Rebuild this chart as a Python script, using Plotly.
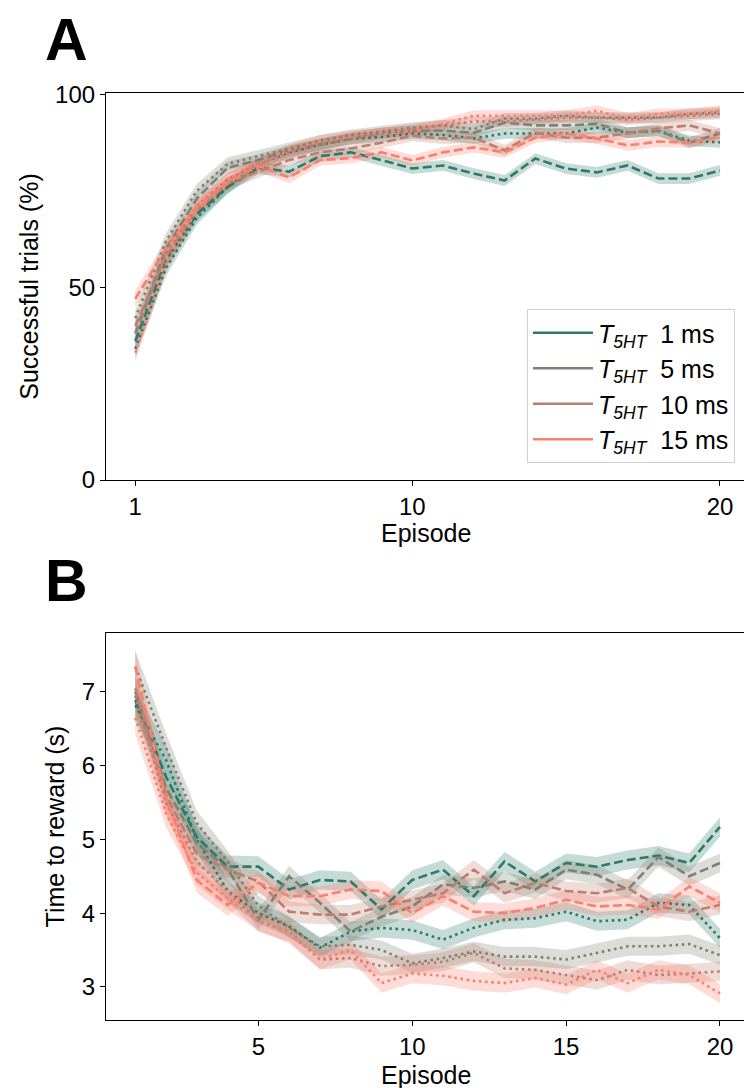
import plotly.graph_objects as go

# ---------------- data ----------------
episodes = list(range(1, 21))

series_names = ["1 ms", "5 ms", "10 ms", "15 ms"]
colors = ["#2c7a68", "#7d8272", "#bf7d6e", "#fa7f6c"]
fill_colors = ["rgba(44,122,104,0.27)", "rgba(125,130,114,0.27)",
               "rgba(191,125,110,0.27)", "rgba(250,127,108,0.27)"]

# Panel A: successful trials (%)
A_1ms_dash = [36, 57, 69, 76, 81, 80, 84, 85, 83, 80.8, 81.6, 79.5, 77.7, 83.4, 80.8, 79.8, 81.6, 78.2, 78.2, 80.3]
A_1ms_dot = [34, 55, 68, 76, 82, 85, 87, 88.5, 89, 89.9, 89.5, 88.6, 89.9, 89.9, 89.9, 91.4, 90.1, 90.6, 88, 87.6]
A_5ms_dash = [38, 60, 73, 81, 83, 85.5, 87, 88.5, 90, 90.6, 90.6, 90.1, 92.7, 92, 92, 92.4, 90.1, 90.6, 87.5, 89.9]
A_5ms_dot = [42, 62, 75, 82, 84, 86, 88, 89.5, 90.5, 91.4, 92, 91, 93.8, 93.8, 94.5, 94, 94, 94, 95, 95.3]
A_10ms_dash = [40, 58, 70, 77, 80, 83, 85, 86, 87.5, 89.3, 88.6, 88.8, 85.5, 90.1, 88.8, 88.8, 89.9, 91.2, 92, 89.9]
A_10ms_dot = [38, 59, 71, 78, 82, 85, 87, 89, 90, 91, 92, 93, 93, 93.5, 94, 94, 93.5, 94, 94.5, 95]
A_15ms_dash = [47, 60, 71, 77, 81.5, 78.5, 83, 83.5, 85, 82.9, 85, 86.3, 85, 88.8, 89.9, 88.6, 86.8, 87.8, 87.5, 89]
A_15ms_dot = [33, 56, 70, 78, 82, 85.5, 88, 89, 90, 90.6, 92.4, 94.5, 94.5, 94.5, 94.5, 95.8, 93.8, 95, 95, 95.8]
A_sem = [2.2, 2.0, 1.8, 1.7, 1.6, 1.5, 1.5, 1.4, 1.4, 1.4, 1.4, 1.4, 1.4, 1.4, 1.4, 1.4, 1.4, 1.4, 1.4, 1.4]

# Panel B: time to reward (s)
B_1ms_dash = [6.89, 5.85, 5.03, 4.63, 4.63, 4.32, 4.45, 4.43, 4.05, 4.45, 4.59, 4.23, 4.70, 4.43, 4.68, 4.63, 4.72, 4.78, 4.68, 5.17]
B_1ms_dot = [6.82, 6.08, 5.00, 4.30, 4.00, 3.82, 3.53, 3.75, 3.80, 3.77, 3.64, 3.80, 3.91, 3.93, 4.02, 3.89, 3.91, 4.14, 4.11, 3.66]
B_5ms_dash = [7.00, 5.70, 4.95, 4.60, 3.91, 4.50, 4.14, 3.75, 3.95, 4.09, 4.39, 4.34, 4.43, 4.32, 4.59, 4.52, 4.32, 4.76, 4.50, 4.68]
B_5ms_dot = [7.34, 6.25, 5.22, 4.70, 4.10, 3.80, 3.55, 3.57, 3.50, 3.32, 3.39, 3.48, 3.41, 3.41, 3.37, 3.46, 3.55, 3.55, 3.58, 3.43]
B_10ms_dash = [7.05, 5.60, 4.80, 4.59, 4.43, 4.02, 3.98, 3.98, 4.09, 4.18, 4.27, 4.59, 4.27, 4.41, 4.30, 4.27, 4.34, 4.09, 4.02, 4.11]
B_10ms_dot = [6.95, 5.50, 4.70, 4.30, 3.89, 3.75, 3.37, 3.39, 3.28, 3.30, 3.34, 3.46, 3.25, 3.23, 3.16, 3.09, 3.23, 3.16, 3.18, 3.21]
B_15ms_dash = [7.35, 5.55, 4.45, 4.11, 4.41, 4.23, 4.23, 4.32, 4.30, 4.00, 4.23, 4.02, 4.00, 4.07, 4.18, 4.09, 4.11, 4.05, 4.36, 4.14]
B_15ms_dot = [6.65, 5.35, 4.55, 4.20, 3.90, 3.73, 3.37, 3.50, 3.05, 3.18, 3.15, 3.08, 3.05, 3.12, 3.03, 3.23, 3.05, 3.23, 3.16, 2.91]
B_sem = [0.22, 0.19, 0.17, 0.15, 0.14, 0.14, 0.13, 0.13, 0.13, 0.13, 0.13, 0.13, 0.13, 0.13, 0.13, 0.13, 0.13, 0.13, 0.13, 0.13]

A_dash = [A_1ms_dash, A_5ms_dash, A_10ms_dash, A_15ms_dash]
A_dot = [A_1ms_dot, A_5ms_dot, A_10ms_dot, A_15ms_dot]
B_dash = [B_1ms_dash, B_5ms_dash, B_10ms_dash, B_15ms_dash]
B_dot = [B_1ms_dot, B_5ms_dot, B_10ms_dot, B_15ms_dot]

A_xticks = [1, 10, 20]
A_yticks = [0, 50, 100]
B_xticks = [5, 10, 15, 20]
B_yticks = [3, 4, 5, 6, 7]

# ---------------- figure ----------------
W, H = 744, 1088
FONT = "Liberation Sans, Arial, Helvetica, sans-serif"
FS = 25
TFS = 24
DASH = "9px,4px"
DOT = "2.6px,3.6px"

fig = go.Figure()


def add_band(xa, ya, mean, sem, fc):
    upper = [m + s for m, s in zip(mean, sem)]
    lower = [m - s for m, s in zip(mean, sem)]
    fig.add_trace(go.Scatter(x=episodes + episodes[::-1], y=upper + lower[::-1],
                             fill="toself", fillcolor=fc, line=dict(width=0),
                             mode="lines", hoverinfo="skip", showlegend=False,
                             xaxis=xa, yaxis=ya))


def add_line(xa, ya, mean, color, dash):
    fig.add_trace(go.Scatter(x=episodes, y=mean, mode="lines",
                             line=dict(color=color, width=2.6, dash=dash),
                             showlegend=False, xaxis=xa, yaxis=ya))


for xa, ya, dash_sets, dot_sets, sem in [("x", "y", A_dash, A_dot, A_sem),
                                          ("x2", "y2", B_dash, B_dot, B_sem)]:
    for i in range(4):
        add_band(xa, ya, dash_sets[i], sem, fill_colors[i])
        add_band(xa, ya, dot_sets[i], sem, fill_colors[i])
    for i in range(4):
        add_line(xa, ya, dash_sets[i], colors[i], DASH)
        add_line(xa, ya, dot_sets[i], colors[i], DOT)

# legend entries (solid lines)
for i in range(4):
    fig.add_trace(go.Scatter(x=[None], y=[None], mode="lines",
                             line=dict(color=colors[i], width=2.6),
                             name="<i>T</i><sub><i>5HT</i></sub>&nbsp;&nbsp;" + series_names[i],
                             showlegend=True, xaxis="x", yaxis="y"))

x0 = 106 / W
A_dom = [1 - 480 / H, 1 - 93 / H]
B_dom = [1 - 1020 / H, 1 - 633 / H]

axis_common = dict(showline=True, linecolor="black", linewidth=1.2, ticks="outside",
                   ticklen=5, tickwidth=1.2, tickcolor="black", showgrid=False,
                   zeroline=False, automargin=False,
                   tickfont=dict(size=TFS, color="black", family=FONT))

title_font = dict(size=FS, family=FONT, color="black")
letter_font = dict(size=59, family="Liberation Sans Narrow, Liberation Sans, Arial", color="black")

fig.update_layout(
    width=W, height=H,
    margin=dict(l=0, r=0, t=0, b=0),
    paper_bgcolor="white", plot_bgcolor="white",
    font=dict(family=FONT, color="black", size=FS),
    xaxis=dict(domain=[x0, 1], range=[0.05, 20.78], tickvals=A_xticks, mirror=True,
               anchor="y", **axis_common),
    yaxis=dict(domain=A_dom, range=[0, 100.4], tickvals=A_yticks, anchor="x",
               title=dict(text="Successful trials (%)", standoff=9, font=title_font),
               **axis_common),
    xaxis2=dict(domain=[x0, 1], range=[0.05, 20.78], tickvals=B_xticks, mirror=True,
                anchor="y2", **axis_common),
    yaxis2=dict(domain=B_dom, range=[2.55, 7.80], tickvals=B_yticks, anchor="x2",
                title=dict(text="Time to reward (s)", standoff=9, font=title_font),
                **axis_common),
    legend=dict(x=735 / W, y=1 - 463 / H, xanchor="right", yanchor="bottom",
                bgcolor="white", bordercolor="#d0d0d0", borderwidth=1,
                font=dict(size=FS, family=FONT), tracegroupgap=0, itemwidth=60),
    annotations=[
        dict(text="<b>A</b>", x=43 / W, y=1 - 5 / H, xref="paper", yref="paper",
             xanchor="left", yanchor="top", showarrow=False, font=letter_font),
        dict(text="<b>B</b>", x=43 / W, y=1 - 546 / H, xref="paper", yref="paper",
             xanchor="left", yanchor="top", showarrow=False, font=letter_font),
        dict(text="Episode", x=426 / W, y=1 - 533 / H, xref="paper", yref="paper",
             xanchor="center", yanchor="middle", showarrow=False, font=title_font),
        dict(text="Episode", x=426 / W, y=1 - 1075 / H, xref="paper", yref="paper",
             xanchor="center", yanchor="middle", showarrow=False, font=title_font),
    ],
)

fig.write_html("out.html")
